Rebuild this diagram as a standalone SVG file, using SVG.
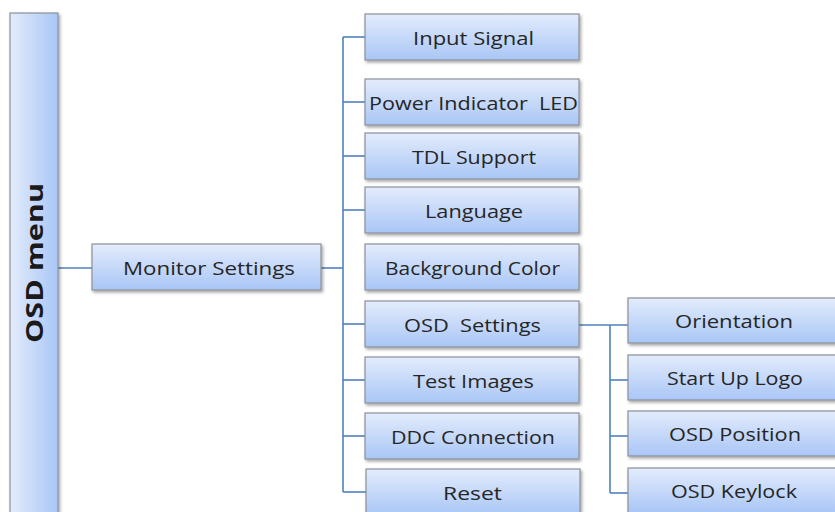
<svg xmlns="http://www.w3.org/2000/svg" width="835" height="512" viewBox="0 0 835 512">
<style>
  .box { fill: url(#gv); stroke: #8c9098; stroke-width: 1.2; filter: url(#sh); }
  .lbl { font-family: "Open Sans", "Liberation Sans", sans-serif; font-size: 18px; fill: #262626; text-anchor: middle; white-space: pre; }
  .title { font-family: "Open Sans", "Liberation Sans", sans-serif; font-size: 24px; font-weight: bold; fill: #1a1a1a; text-anchor: middle; }
  .conn { stroke: #4f81bd; stroke-width: 1.6; fill: none; }
</style>
<defs>
  <linearGradient id="gv" x1="0" y1="0" x2="0" y2="1">
    <stop offset="0" stop-color="#e3ecfc"/>
    <stop offset="1" stop-color="#a9c6f6"/>
  </linearGradient>
  <linearGradient id="gh" x1="0" y1="0" x2="1" y2="0">
    <stop offset="0" stop-color="#e3ecfc"/>
    <stop offset="1" stop-color="#a9c6f6"/>
  </linearGradient>
  <filter id="sh" x="-10%" y="-10%" width="130%" height="140%">
    <feDropShadow dx="1.5" dy="2" stdDeviation="1.5" flood-color="#000" flood-opacity="0.35"/>
  </filter>
</defs>
<rect width="835" height="512" fill="#ffffff"/>

<g id="connectors">
  <line class="conn" x1="58" y1="268" x2="92" y2="268"/>
  <line class="conn" x1="321" y1="268" x2="343" y2="268"/>
  <line class="conn" x1="343" y1="37" x2="343" y2="492"/>
  <line class="conn" x1="343" y1="37" x2="366" y2="37"/>
  <line class="conn" x1="343" y1="102" x2="366" y2="102"/>
  <line class="conn" x1="343" y1="156" x2="366" y2="156"/>
  <line class="conn" x1="343" y1="210" x2="366" y2="210"/>
  <line class="conn" x1="343" y1="324" x2="366" y2="324"/>
  <line class="conn" x1="343" y1="380" x2="366" y2="380"/>
  <line class="conn" x1="343" y1="436" x2="366" y2="436"/>
  <line class="conn" x1="343" y1="492" x2="366" y2="492"/>
  <line class="conn" x1="579" y1="325" x2="629" y2="325"/>
  <line class="conn" x1="610" y1="325" x2="610" y2="493"/>
  <line class="conn" x1="610" y1="380" x2="629" y2="380"/>
  <line class="conn" x1="610" y1="436" x2="629" y2="436"/>
  <line class="conn" x1="610" y1="493" x2="629" y2="493"/>
</g>

<g id="osd-menu">
  <rect x="10" y="13" width="48" height="512" fill="url(#gh)" stroke="#8c9098" stroke-width="1.2" filter="url(#sh)"/>
  <text class="title" transform="translate(43,263) rotate(-90)" textLength="160" lengthAdjust="spacingAndGlyphs">OSD menu</text>
</g>

<g id="monitor-settings">
  <rect class="box" x="92" y="244" width="229" height="46"/>
  <text class="lbl" x="209" y="274.5" textLength="172" lengthAdjust="spacingAndGlyphs">Monitor Settings</text>
</g>

<g id="input-signal">
  <rect class="box" x="365" y="14" width="214" height="46"/>
  <text class="lbl" x="473.5" y="44.5" textLength="121" lengthAdjust="spacingAndGlyphs">Input Signal</text>
</g>
<g id="power-indicator-led">
  <rect class="box" x="365" y="79" width="214" height="46"/>
  <text class="lbl" x="473.5" y="109.5" textLength="209" lengthAdjust="spacingAndGlyphs" xml:space="preserve">Power Indicator  LED</text>
</g>
<g id="tdl-support">
  <rect class="box" x="365" y="133" width="214" height="46"/>
  <text class="lbl" x="474" y="163.5" textLength="124" lengthAdjust="spacingAndGlyphs">TDL Support</text>
</g>
<g id="language">
  <rect class="box" x="365" y="187" width="214" height="46"/>
  <text class="lbl" x="474" y="217.5" textLength="98" lengthAdjust="spacingAndGlyphs">Language</text>
</g>
<g id="background-color">
  <rect class="box" x="365" y="244" width="214" height="46"/>
  <text class="lbl" x="472.5" y="274.5" textLength="175" lengthAdjust="spacingAndGlyphs">Background Color</text>
</g>
<g id="osd-settings">
  <rect class="box" x="365" y="301" width="214" height="46"/>
  <text class="lbl" x="472.5" y="331.5" textLength="137" lengthAdjust="spacingAndGlyphs" xml:space="preserve">OSD  Settings</text>
</g>
<g id="test-images">
  <rect class="box" x="365" y="357" width="214" height="46"/>
  <text class="lbl" x="473.5" y="387.5" textLength="121" lengthAdjust="spacingAndGlyphs">Test Images</text>
</g>
<g id="ddc-connection">
  <rect class="box" x="365" y="413" width="214" height="46"/>
  <text class="lbl" x="473" y="443.5" textLength="164" lengthAdjust="spacingAndGlyphs">DDC Connection</text>
</g>
<g id="reset">
  <rect class="box" x="366" y="469" width="214" height="46"/>
  <text class="lbl" x="472.5" y="499.5" textLength="59" lengthAdjust="spacingAndGlyphs">Reset</text>
</g>

<g id="orientation">
  <rect class="box" x="628" y="298" width="215" height="45"/>
  <text class="lbl" x="734" y="328" textLength="118" lengthAdjust="spacingAndGlyphs">Orientation</text>
</g>
<g id="start-up-logo">
  <rect class="box" x="628" y="355" width="215" height="45"/>
  <text class="lbl" x="735" y="385" textLength="136" lengthAdjust="spacingAndGlyphs">Start Up Logo</text>
</g>
<g id="osd-position">
  <rect class="box" x="628" y="411" width="215" height="45"/>
  <text class="lbl" x="735" y="441" textLength="132" lengthAdjust="spacingAndGlyphs">OSD Position</text>
</g>
<g id="osd-keylock">
  <rect class="box" x="628" y="468" width="215" height="45"/>
  <text class="lbl" x="734" y="498" textLength="126" lengthAdjust="spacingAndGlyphs">OSD Keylock</text>
</g>
</svg>
